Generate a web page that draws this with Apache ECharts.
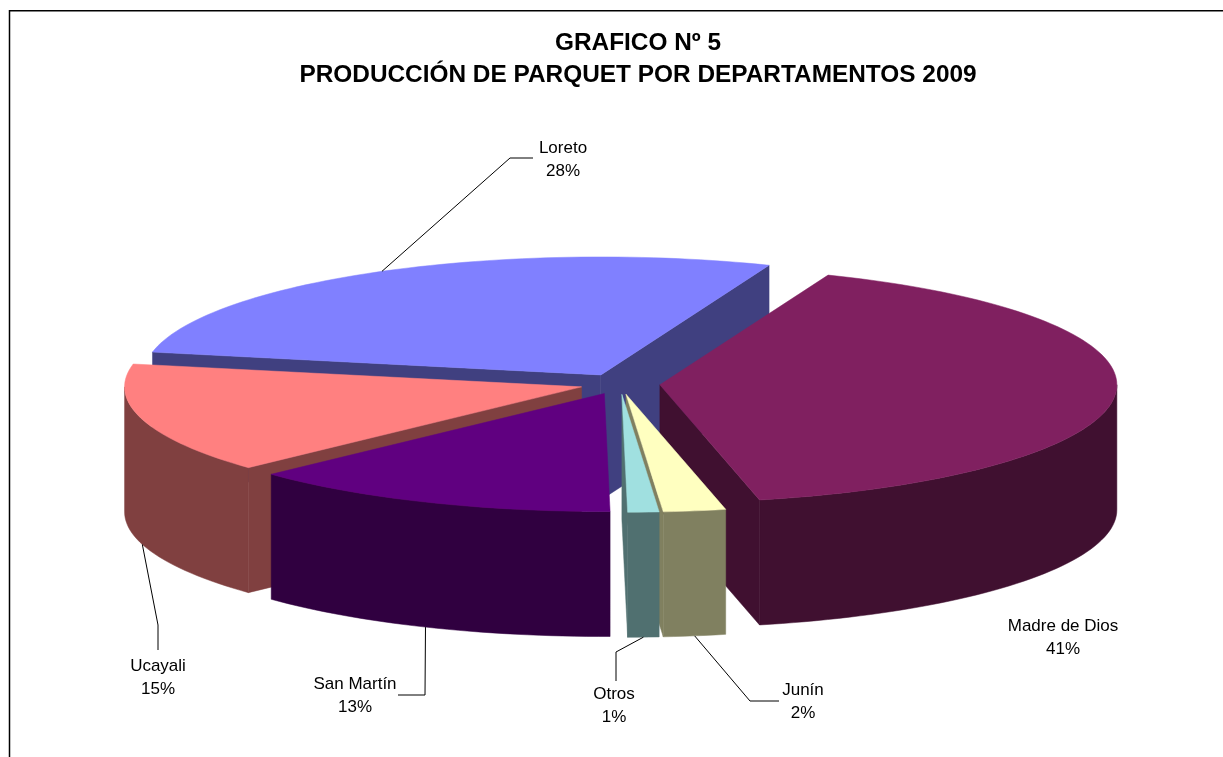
<!DOCTYPE html>
<html>
<head>
<meta charset="utf-8">
<title>Producción de parquet</title>
<style>
html, body { margin: 0; padding: 0; background: #fff; }
#chart { width: 1223px; height: 757px; }
</style>
<script src="https://cdn.jsdelivr.net/npm/echarts@6/dist/echarts.min.js"></script>
</head>
<body>
<div id="chart"></div>
<script>
// clockwise from the first slice, as in the source sheet
var categories = ['Madre de Dios', 'Junín', 'Otros', 'San Martín', 'Ucayali', 'Loreto'];
var shares = [40.5, 2.2, 1.1, 13.2, 15.1, 27.9];
var topColors = ['#802060', '#FFFFC0', '#A0E0E0', '#600080', '#FF8080', '#8080FF'];
var sideColors = ['#401030', '#808060', '#507070', '#300040', '#804040', '#404080'];

var titleLines = 'GRAFICO Nº 5\nPRODUCCIÓN DE PARQUET POR DEPARTAMENTOS 2009';

// label box centre and the bend of the leader, by slice (no leader for Madre de Dios)
var labelPos = [[1063, 638], [803, 702], [614, 706], [355, 696], [158, 678], [563, 160]];
var labelBend = [null, [[750, 701], [779, 701]], [[616, 652], [616, 681]], [[425, 695], [398, 695]], [[158, 625], [158, 650]], [[510, 158], [533, 158]]];

var cx = 620, cy = 384, rx = 457, ry = 118, depth = 125;
var explode = 0.0875, startAngle = 68.4;

var total = shares.reduce(function(a, b) { return a + b; }, 0);

var slices = [], acc = startAngle;
shares.forEach(function(v, i) {
    var a = acc, b = acc - v / total * 360;
    var mid = (a + b) / 2 * Math.PI / 180;
    slices.push({
        index: i, a: a, b: b, mid: mid,
        ox: cx + explode * rx * Math.cos(mid),
        oy: cy - explode * ry * Math.sin(mid)
    });
    acc = b;
});

function rim(s, deg, drop) {
    var t = deg * Math.PI / 180;
    return [s.ox + rx * Math.cos(t), s.oy - ry * Math.sin(t) + (drop || 0)];
}

function arc(s, from, to, drop) {
    var pts = [], n = Math.max(2, Math.ceil(Math.abs(from - to) / 1.5));
    for (var i = 0; i <= n; i++) {
        pts.push(rim(s, from + (to - from) * i / n, drop));
    }
    return pts;
}

function poly(points, color) {
    return {
        type: 'polygon',
        shape: { points: points },
        style: { fill: color, stroke: color, lineWidth: 0.5 }
    };
}

// outer wall pieces: only the front half of the rim shows
function walls(s, color) {
    var out = [], ranges = [[-180, 0], [-540, -360]];
    ranges.forEach(function(r) {
        var from = Math.min(s.a, r[1]), to = Math.max(s.b, r[0]);
        if (from > to) {
            out.push(poly(arc(s, from, to, 0).concat(arc(s, to, from, depth)), color));
        }
    });
    return out;
}

function face(s, deg, color) {
    var p = rim(s, deg, 0), q = rim(s, deg, depth);
    return poly([[s.ox, s.oy], p, q, [s.ox, s.oy + depth]], color);
}

function renderSlice(params, api) {
    var s = slices[api.value(0)], side = sideColors[s.index], kids = [];
    if (Math.cos(s.a * Math.PI / 180) < 0) {
        kids.push(face(s, s.a, side));
    }
    if (Math.cos(s.b * Math.PI / 180) > 0) {
        kids.push(face(s, s.b, side));
    }
    kids = kids.concat(walls(s, side));
    kids.push(poly([[s.ox, s.oy]].concat(arc(s, s.a, s.b, 0)), topColors[s.index]));
    return { type: 'group', children: kids };
}

function renderLabel(params, api) {
    var i = api.value(0), s = slices[i], kids = [];
    if (labelBend[i]) {
        var deg = s.mid * 180 / Math.PI;
        // leaders of the front slices start on the lower rim
        var from = rim(s, deg, Math.sin(s.mid) < 0 ? depth : 0);
        kids.push({
            type: 'polyline',
            shape: { points: [from].concat(labelBend[i]) },
            style: { fill: 'none', stroke: '#000', lineWidth: 1 }
        });
    }
    kids.push({
        type: 'text',
        x: labelPos[i][0],
        y: labelPos[i][1],
        style: {
            text: categories[i] + '\n' + Math.round(shares[i] / total * 100) + '%',
            fill: '#000',
            font: '17px "Liberation Sans", Arial, sans-serif',
            lineHeight: 23,
            align: 'center',
            verticalAlign: 'middle'
        }
    });
    return { type: 'group', children: kids };
}

// back slices first so the front ones paint over them
var drawOrder = slices.slice().sort(function(p, q) {
    return Math.sin(q.mid) - Math.sin(p.mid);
}).map(function(s) { return s.index; });

var chart = echarts.init(document.getElementById('chart'));

chart.setOption({
    backgroundColor: '#fff',
    animation: false,
    title: {
        text: titleLines,
        left: 633,
        top: 22,
        textAlign: 'center',
        textStyle: {
            fontFamily: '"Liberation Sans", Arial, sans-serif',
            fontWeight: 'bold',
            fontSize: 24.4,
            lineHeight: 32,
            color: '#000'
        }
    },
    graphic: [{
        type: 'polyline',
        shape: { points: [[9.5, 757], [9.5, 10.75], [1223, 10.75]] },
        style: { fill: 'none', stroke: '#000', lineWidth: 1.5 },
        z: 0
    }],
    series: [{
        type: 'custom',
        name: 'Producción',
        coordinateSystem: 'none',
        renderItem: renderSlice,
        silent: true,
        data: drawOrder.map(function(i) { return { name: categories[i], value: [i, shares[i]] }; })
    }, {
        type: 'custom',
        name: 'Etiquetas',
        coordinateSystem: 'none',
        renderItem: renderLabel,
        silent: true,
        z: 5,
        data: categories.map(function(c, i) { return { name: c, value: [i, shares[i]] }; })
    }]
});
</script>
</body>
</html>
